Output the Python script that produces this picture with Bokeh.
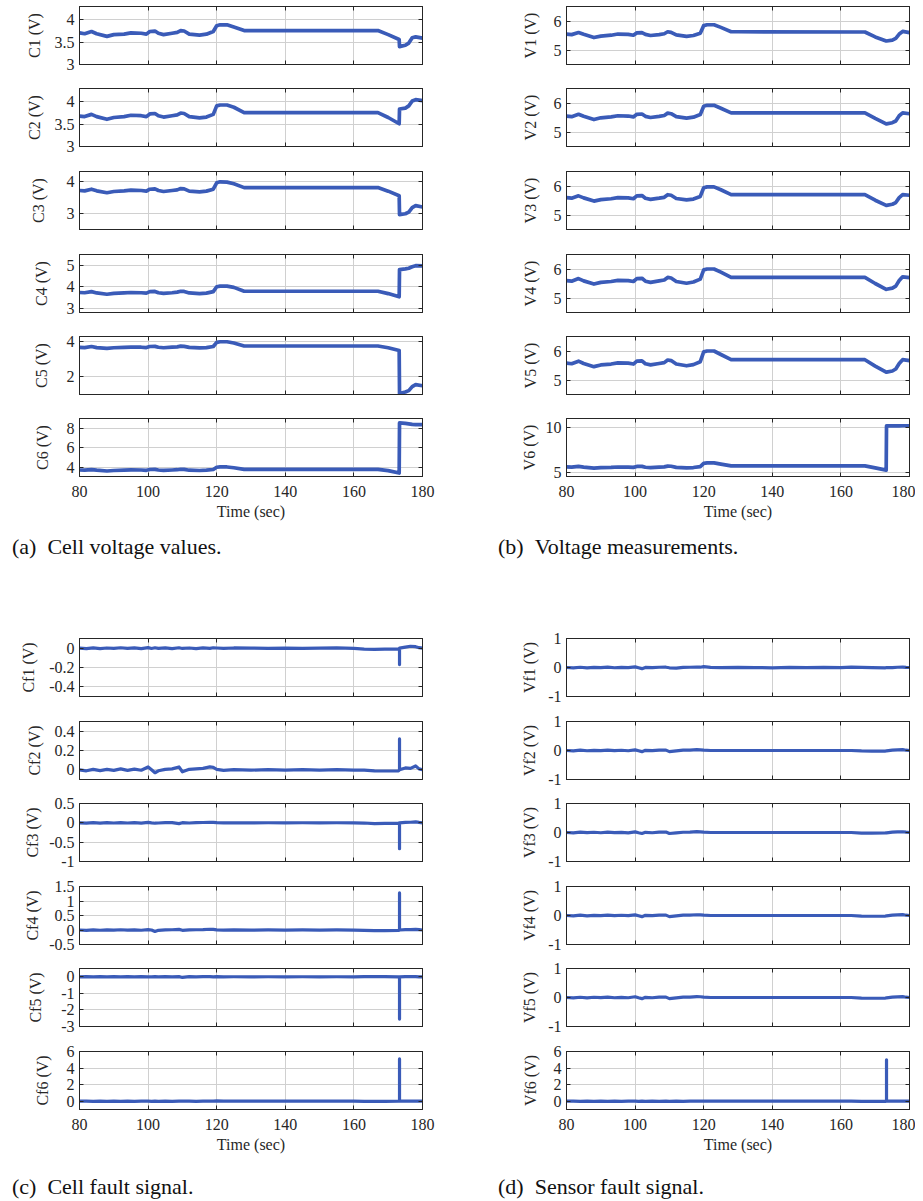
from bokeh.plotting import figure
from bokeh.models import Range1d, FixedTicker, LinearAxis, Div, CustomJSTickFormatter
from bokeh.layouts import column, row
from bokeh.embed import file_html
from bokeh.resources import INLINE

FONT = "Liberation Serif"
BLUE = "#3a5bb8"
FRAME = "#262626"
GRID = "#d0d0d0"
TXT = "#262626"

X_TICKS = [80, 100, 120, 140, 160, 180]

# ---- voltage time base (sec) ----
T = [80, 81.5, 83.5, 85, 88, 90, 93, 95, 98, 99.5, 100.5, 102, 103, 104.5, 107, 108.5,
     109.5, 110.5, 112, 115, 117, 119, 120, 121, 123, 125, 128, 130, 167, 170, 173.2,
     173.3, 175, 176, 177, 178, 180]

C1 = [3.71, 3.69, 3.74, 3.69, 3.63, 3.67, 3.68, 3.71, 3.70, 3.68, 3.74, 3.75, 3.70, 3.67, 3.70, 3.72,
      3.76, 3.75, 3.68, 3.66, 3.68, 3.74, 3.87, 3.89, 3.89, 3.84, 3.76, 3.76, 3.76, 3.67, 3.56,
      3.40, 3.43, 3.48, 3.60, 3.62, 3.59]
C2 = [3.68, 3.67, 3.72, 3.67, 3.61, 3.65, 3.67, 3.70, 3.69, 3.67, 3.73, 3.74, 3.69, 3.66, 3.69, 3.71,
      3.75, 3.74, 3.67, 3.64, 3.66, 3.72, 3.91, 3.93, 3.93, 3.88, 3.76, 3.76, 3.76, 3.65, 3.51,
      3.84, 3.86, 3.91, 4.02, 4.05, 4.03]
C3 = [3.71, 3.70, 3.75, 3.70, 3.64, 3.68, 3.70, 3.72, 3.71, 3.69, 3.75, 3.76, 3.71, 3.68, 3.71, 3.73,
      3.77, 3.76, 3.69, 3.67, 3.69, 3.75, 3.95, 3.98, 3.97, 3.92, 3.80, 3.80, 3.80, 3.69, 3.55,
      2.96, 2.99, 3.04, 3.18, 3.24, 3.20]
C4 = [3.73, 3.72, 3.77, 3.71, 3.65, 3.69, 3.71, 3.73, 3.72, 3.70, 3.77, 3.78, 3.72, 3.69, 3.72, 3.75,
      3.79, 3.78, 3.71, 3.68, 3.70, 3.77, 4.00, 4.03, 4.03, 3.97, 3.79, 3.79, 3.79, 3.68, 3.53,
      4.80, 4.83, 4.86, 4.93, 4.98, 4.97]
C5 = [3.68, 3.67, 3.73, 3.67, 3.62, 3.66, 3.68, 3.70, 3.69, 3.67, 3.73, 3.74, 3.69, 3.66, 3.69, 3.71,
      3.75, 3.74, 3.68, 3.65, 3.67, 3.73, 3.97, 4.00, 4.00, 3.93, 3.76, 3.76, 3.76, 3.66, 3.50,
      1.06, 1.14, 1.22, 1.45, 1.56, 1.50]
C6 = [3.76, 3.74, 3.80, 3.74, 3.66, 3.71, 3.74, 3.77, 3.76, 3.73, 3.81, 3.82, 3.76, 3.72, 3.76, 3.79,
      3.84, 3.82, 3.74, 3.71, 3.74, 3.81, 4.04, 4.07, 4.07, 3.99, 3.83, 3.83, 3.83, 3.70, 3.45,
      8.55, 8.50, 8.45, 8.40, 8.38, 8.37]

V1 = [5.55, 5.53, 5.60, 5.54, 5.43, 5.48, 5.51, 5.55, 5.54, 5.51, 5.59, 5.60, 5.54, 5.50, 5.53, 5.56,
      5.63, 5.61, 5.52, 5.47, 5.50, 5.58, 5.84, 5.87, 5.87, 5.78, 5.63, 5.63, 5.62, 5.45, 5.31,
      5.31, 5.34, 5.40, 5.55, 5.64, 5.60]
V2 = [5.55, 5.53, 5.61, 5.54, 5.43, 5.49, 5.52, 5.56, 5.55, 5.52, 5.61, 5.62, 5.54, 5.50, 5.54, 5.57,
      5.65, 5.63, 5.53, 5.48, 5.51, 5.60, 5.89, 5.92, 5.92, 5.82, 5.66, 5.66, 5.66, 5.47, 5.28,
      5.28, 5.32, 5.38, 5.56, 5.66, 5.63]
V3 = [5.60, 5.58, 5.66, 5.59, 5.48, 5.53, 5.56, 5.60, 5.59, 5.56, 5.66, 5.67, 5.58, 5.54, 5.58, 5.61,
      5.70, 5.68, 5.57, 5.52, 5.55, 5.64, 5.94, 5.97, 5.97, 5.87, 5.70, 5.70, 5.70, 5.51, 5.33,
      5.33, 5.37, 5.43, 5.60, 5.70, 5.68]
V4 = [5.60, 5.58, 5.67, 5.59, 5.48, 5.54, 5.57, 5.61, 5.60, 5.57, 5.67, 5.68, 5.58, 5.54, 5.59, 5.62,
      5.71, 5.69, 5.57, 5.51, 5.55, 5.65, 5.97, 6.00, 6.00, 5.89, 5.71, 5.71, 5.71, 5.50, 5.30,
      5.30, 5.34, 5.41, 5.60, 5.73, 5.70]
V5 = [5.58, 5.56, 5.65, 5.57, 5.46, 5.52, 5.55, 5.59, 5.58, 5.55, 5.65, 5.66, 5.56, 5.52, 5.57, 5.60,
      5.69, 5.67, 5.55, 5.49, 5.53, 5.63, 5.97, 6.00, 6.00, 5.88, 5.70, 5.70, 5.70, 5.48, 5.27,
      5.27, 5.31, 5.38, 5.57, 5.70, 5.67]
V6 = [5.66, 5.63, 5.72, 5.64, 5.52, 5.58, 5.61, 5.65, 5.64, 5.61, 5.71, 5.72, 5.62, 5.58, 5.63, 5.66,
      5.75, 5.73, 5.61, 5.55, 5.59, 5.69, 6.05, 6.10, 6.10, 5.97, 5.77, 5.77, 5.77, 5.55, 5.30,
      10.18, 10.18, 10.18, 10.19, 10.20, 10.20]

# ---- fault-signal time base (sec) ----
FT = [80, 82, 84, 86, 88, 90, 92, 94, 96, 98, 100, 101, 102, 103, 105, 107, 109, 110, 112, 114,
      116, 118, 119, 120, 122, 125, 130, 135, 140, 145, 150, 155, 160, 163, 166, 169, 173.0,
      173.3, 173.3, 173.3, 175, 176.5, 178, 179, 180]

CF1 = [0.0, -0.005, 0.003, -0.004, 0.002, -0.003, 0.004, -0.002, 0.003, -0.004, 0.005, -0.003, 0.004,
       -0.002, 0.003, -0.004, 0.004, -0.003, 0.002, -0.004, 0.003, -0.002, 0.004, 0.002, -0.003, 0.002,
       0.0, -0.002, 0.001, -0.002, 0.0, 0.002, -0.003, -0.01, -0.012, -0.01, -0.008, 0.0, -0.17, 0.0,
       0.01, 0.02, 0.015, 0.005, 0.0]
CF2 = [0.0, -0.01, 0.005, -0.008, 0.004, -0.006, 0.01, -0.005, 0.008, -0.004, 0.03, 0.0, -0.03, -0.01,
       0.005, 0.01, 0.03, -0.02, 0.005, 0.01, 0.015, 0.03, 0.025, 0.005, -0.005, 0.002, -0.003, 0.002,
       -0.002, 0.003, -0.002, 0.002, -0.003, -0.004, -0.01, -0.012, -0.01, 0.0, 0.32, 0.0, 0.02, 0.015,
       0.04, 0.01, 0.0]
CF3 = [0.0, -0.008, 0.005, -0.006, 0.004, -0.005, 0.006, -0.004, 0.005, -0.006, 0.012, 0.0, -0.01,
       -0.005, 0.004, 0.006, -0.02, 0.004, -0.005, 0.006, 0.008, 0.015, 0.012, 0.004, -0.003, 0.002,
       -0.002, 0.002, -0.002, 0.002, -0.002, 0.002, -0.003, -0.005, -0.02, -0.015, -0.01, 0.0, -0.67,
       0.0, 0.01, 0.015, 0.025, 0.01, 0.0]
CF4 = [0.0, -0.01, 0.006, -0.008, 0.005, -0.006, 0.008, -0.005, 0.006, -0.008, 0.01, 0.0, -0.05, -0.01,
       0.005, 0.008, 0.02, -0.01, 0.005, 0.008, 0.01, 0.025, 0.02, 0.005, -0.004, 0.003, -0.003, 0.002,
       -0.002, 0.003, -0.002, 0.002, -0.003, -0.01, -0.02, -0.02, -0.015, 0.0, 1.28, 0.0, 0.01, 0.015,
       0.02, 0.01, 0.0]
CF5 = [0.0, 0.01, -0.01, 0.008, -0.008, 0.006, -0.01, 0.008, -0.006, 0.01, 0.0, -0.01, 0.01, -0.01,
       0.006, -0.006, 0.008, -0.04, 0.01, -0.008, 0.006, 0.01, -0.008, 0.004, -0.004, 0.003, -0.003,
       0.003, -0.003, 0.003, -0.003, 0.003, -0.004, 0.005, 0.01, 0.005, 0.0, 0.0, -2.55, 0.0, 0.01,
       0.015, 0.01, 0.0, 0.0]
CF6 = [0.0, 0.01, -0.01, 0.01, -0.01, 0.01, -0.01, 0.01, -0.01, 0.01, 0.02, -0.01, 0.02, -0.01, 0.01,
       -0.01, 0.01, 0.0, 0.01, -0.01, 0.01, 0.02, 0.01, 0.03, 0.01, 0.0, 0.0, 0.0, 0.0, 0.0, 0.0, 0.0,
       0.0, -0.01, -0.01, -0.01, 0.0, 0.0, 5.1, 0.0, 0.01, 0.01, 0.01, 0.0, 0.0]

VF1 = [0.0, -0.01, 0.008, -0.01, 0.006, -0.006, 0.01, -0.008, 0.006, -0.006, 0.02, -0.01, -0.04, 0.004,
       -0.006, 0.008, 0.01, -0.01, -0.02, 0.006, 0.008, 0.012, 0.01, 0.03, 0.006, -0.006, 0.004, -0.004,
       -0.01, 0.004, -0.004, 0.004, -0.004, 0.01, 0.004, -0.006, -0.01, 0.0, 0.0, 0.0, -0.006, 0.008,
       0.015, 0.006, 0.0]
VF2 = [0.0, -0.01, 0.01, -0.008, 0.006, -0.006, 0.01, -0.006, 0.008, -0.008, 0.02, -0.01, -0.04, 0.006,
       -0.006, 0.01, 0.012, -0.04, -0.01, 0.01, 0.012, 0.03, 0.02, 0.01, 0.0, 0.0, 0.0, 0.0, 0.0, 0.0,
       0.0, 0.0, 0.0, 0.0, -0.015, -0.02, -0.02, -0.01, -0.01, -0.01, 0.01, 0.02, 0.03, 0.01, 0.0]
VF3 = [0.0, -0.012, 0.01, -0.006, 0.008, -0.008, 0.01, -0.006, 0.006, -0.01, 0.02, -0.01, -0.035, 0.006,
       -0.008, 0.01, 0.015, -0.035, -0.01, 0.008, 0.012, 0.03, 0.02, 0.01, 0.0, 0.0, 0.0, 0.0, 0.0, 0.0,
       0.0, 0.0, 0.0, 0.0, -0.02, -0.02, -0.015, -0.01, -0.01, -0.01, 0.01, 0.02, 0.025, 0.01, 0.0]
VF4 = [0.0, -0.01, 0.01, -0.01, 0.006, -0.006, 0.012, -0.006, 0.008, -0.006, 0.02, -0.01, -0.04, 0.006,
       -0.006, 0.012, 0.012, -0.04, -0.012, 0.01, 0.015, 0.025, 0.02, 0.01, 0.0, 0.0, 0.0, 0.0, 0.0, 0.0,
       0.0, 0.0, 0.0, 0.0, -0.02, -0.025, -0.02, -0.01, -0.01, -0.01, 0.01, 0.02, 0.03, 0.01, 0.0]
VF5 = [0.0, -0.012, 0.008, -0.01, 0.008, -0.006, 0.012, -0.008, 0.006, -0.008, 0.025, -0.01, -0.04, 0.006,
       -0.008, 0.01, 0.012, -0.04, -0.01, 0.01, 0.012, 0.03, 0.025, 0.01, 0.0, 0.0, 0.0, 0.0, 0.0, 0.0,
       0.0, 0.0, 0.0, 0.0, -0.02, -0.025, -0.02, -0.01, -0.01, -0.01, 0.01, 0.02, 0.03, 0.01, 0.0]
VF6 = [0.0, 0.01, -0.01, 0.01, -0.01, 0.01, -0.01, 0.01, -0.01, 0.01, 0.01, -0.01, 0.01, -0.01, 0.01,
       -0.01, 0.01, -0.01, 0.01, -0.01, 0.01, 0.01, 0.01, 0.01, 0.0, 0.0, 0.0, 0.0, 0.0, 0.0, 0.0, 0.0,
       0.0, 0.0, -0.01, -0.01, -0.01, 0.0, 5.0, 0.0, 0.01, 0.01, 0.01, 0.0, 0.0]

# ---- panel specs: (label, y-range, tick values, tick labels) ----
A_LABELS = ["C1 (V)", "C2 (V)", "C3 (V)", "C4 (V)", "C5 (V)", "C6 (V)"]
A_RANGES = [(3, 4.3), (3, 4.3), (2.5, 4.3), (2.8, 5.5), (1, 4.3), (3.1, 9)]
A_TICKS = [[3, 3.5, 4], [3, 3.5, 4], [3, 4], [3, 4, 5], [2, 4], [4, 6, 8]]
A_TLAB = [["3", "3.5", "4"], ["3", "3.5", "4"], ["3", "4"], ["3", "4", "5"], ["2", "4"], ["4", "6", "8"]]

B_LABELS = ["V1 (V)", "V2 (V)", "V3 (V)", "V4 (V)", "V5 (V)", "V6 (V)"]
B_RANGES = [(4.5, 6.5)] * 5 + [(4.6, 11)]
B_TICKS = [[5, 6]] * 5 + [[5, 10]]
B_TLAB = [["5", "6"]] * 5 + [["5", "10"]]

C_LABELS = ["Cf1 (V)", "Cf2 (V)", "Cf3 (V)", "Cf4 (V)", "Cf5 (V)", "Cf6 (V)"]
C_RANGES = [(-0.5, 0.1), (-0.1, 0.5), (-1, 0.5), (-0.5, 1.5), (-3, 0.5), (-1, 6)]
C_TICKS = [[-0.4, -0.2, 0], [0, 0.2, 0.4], [-1, -0.5, 0, 0.5], [-0.5, 0, 0.5, 1, 1.5],
           [-3, -2, -1, 0], [0, 2, 4, 6]]
C_TLAB = [["-0.4", "-0.2", "0"], ["0", "0.2", "0.4"], ["-1", "-0.5", "0", "0.5"],
          ["-0.5", "0", "0.5", "1", "1.5"], ["-3", "-2", "-1", "0"], ["0", "2", "4", "6"]]

D_LABELS = ["Vf1 (V)", "Vf2 (V)", "Vf3 (V)", "Vf4 (V)", "Vf5 (V)", "Vf6 (V)"]
D_RANGES = [(-1, 1)] * 5 + [(-1, 6)]
D_TICKS = [[-1, 0, 1]] * 5 + [[0, 2, 4, 6]]
D_TLAB = [["-1", "0", "1"]] * 5 + [["0", "2", "4", "6"]]

CAPTIONS = ["(a)&nbsp;&nbsp;Cell voltage values.", "(b)&nbsp;&nbsp;Voltage measurements.",
            "(c)&nbsp;&nbsp;Cell fault signal.", "(d)&nbsp;&nbsp;Sensor fault signal."]


def tick_only_axis(ticks):
    return LinearAxis(ticker=FixedTicker(ticks=ticks), major_tick_in=4, major_tick_out=0,
                      minor_tick_line_color=None, major_label_standoff=0,
                      major_label_text_font_size="1px", major_label_text_alpha=0,
                      formatter=CustomJSTickFormatter(code="return ''"),
                      axis_line_color=FRAME, major_tick_line_color=FRAME)


def panel(x, y, ylabel, yr, yt, ytl, bl, br, top, bottom, last, lstand, lw):
    p = figure(frame_width=343, frame_height=58, x_range=Range1d(80, 180),
               y_range=Range1d(*yr), output_backend="svg", toolbar_location=None,
               min_border_left=bl, min_border_right=br, min_border_top=top,
               min_border_bottom=bottom, outline_line_color=FRAME, outline_line_width=1,
               background_fill_color="white", border_fill_color="white")
    p.line(x, y, line_color=BLUE, line_width=lw, line_join="round")
    xa = p.xaxis[0]
    xa.ticker = FixedTicker(ticks=X_TICKS)
    ya = p.yaxis[0]
    ya.ticker = FixedTicker(ticks=yt)
    ya.major_label_overrides = {float(v): s for v, s in zip(yt, ytl)}
    p.xgrid.ticker = FixedTicker(ticks=X_TICKS)
    p.ygrid.ticker = FixedTicker(ticks=yt)
    p.xgrid.grid_line_color = GRID
    p.ygrid.grid_line_color = GRID
    for ax in (xa, ya):
        ax.major_tick_in = 4
        ax.major_tick_out = 0
        ax.minor_tick_line_color = None
        ax.axis_line_color = FRAME
        ax.major_tick_line_color = FRAME
        ax.major_label_text_font = FONT
        ax.major_label_text_font_size = "16px"
        ax.major_label_text_color = TXT
        ax.axis_label_text_font = FONT
        ax.axis_label_text_font_size = "16px"
        ax.axis_label_text_font_style = "normal"
        ax.axis_label_text_color = TXT
    ya.axis_label = ylabel
    ya.major_label_standoff = 5
    ya.axis_label_standoff = lstand
    if last:
        xa.axis_label = "Time (sec)"
        xa.major_label_standoff = 9
        xa.axis_label_standoff = 3
    else:
        xa.major_label_standoff = 0
        xa.major_label_text_font_size = "1px"
        xa.major_label_text_alpha = 0
        xa.formatter = CustomJSTickFormatter(code="return ''")
    p.add_layout(tick_only_axis(X_TICKS), "above")
    p.add_layout(tick_only_axis(yt), "right")
    return p


def build(series, t, labels, ranges, ticks, tlabs, bl, br, tops, bottoms, stands, lw):
    figs = []
    for i in range(6):
        figs.append(panel(t, series[i], labels[i], ranges[i], ticks[i], tlabs[i], bl, br,
                          tops[i], bottoms[i], i == 5, stands[i], lw))
    return figs


TOP_T = [6, 12, 12, 12, 12, 12]
TOP_B = [12, 13, 13, 12, 12, 58]
BOT_T = [12] * 6
BOT_B = [13, 12, 13, 12, 13, 58]

LW, LBL, LBR = 460, 79, 38
RW, RBL, RBR = 455, 106, 6

figs_a = build([C1, C2, C3, C4, C5, C6], T, A_LABELS, A_RANGES, A_TICKS, A_TLAB, LBL, LBR,
               TOP_T, TOP_B, [9, 9, 17, 14, 14, 13], 3.7)
figs_b = build([V1, V2, V3, V4, V5, V6], T, B_LABELS, B_RANGES, B_TICKS, B_TLAB, RBL, RBR,
               TOP_T, TOP_B, [12, 12, 12, 12, 12, 5], 3.7)
figs_c = build([CF1, CF2, CF3, CF4, CF5, CF6], FT, C_LABELS, C_RANGES, C_TICKS, C_TLAB, LBL, LBR,
               BOT_T, BOT_B, [9, 9, 5, 5, 14, 13], 3.2)
figs_d = build([VF1, VF2, VF3, VF4, VF5, VF6], FT, D_LABELS, D_RANGES, D_TICKS, D_TLAB, RBL, RBR,
               BOT_T, BOT_B, [7, 7, 7, 7, 7, 12], 3.2)


def caption(txt, w, h, pad_top, pad_left):
    html = ('<div style="padding-top:%dpx;padding-left:%dpx;font-family:\'%s\';font-size:22px;'
            'line-height:26px;color:#111111;white-space:nowrap;">%s</div>' % (pad_top, pad_left, FONT, txt))
    return Div(text=html, width=w, height=h, margin=0, styles={"overflow": "visible"})


left = column(*figs_a, caption(CAPTIONS[0], LW, 92, 0, 12), *figs_c,
              caption(CAPTIONS[2], LW, 33, 7, 12), spacing=0)
right = column(*figs_b, caption(CAPTIONS[1], RW, 92, 0, 38), *figs_d,
               caption(CAPTIONS[3], RW, 33, 7, 38), spacing=0)
layout = row(left, right, spacing=0)

open("out.html", "w").write(file_html(layout, INLINE))
